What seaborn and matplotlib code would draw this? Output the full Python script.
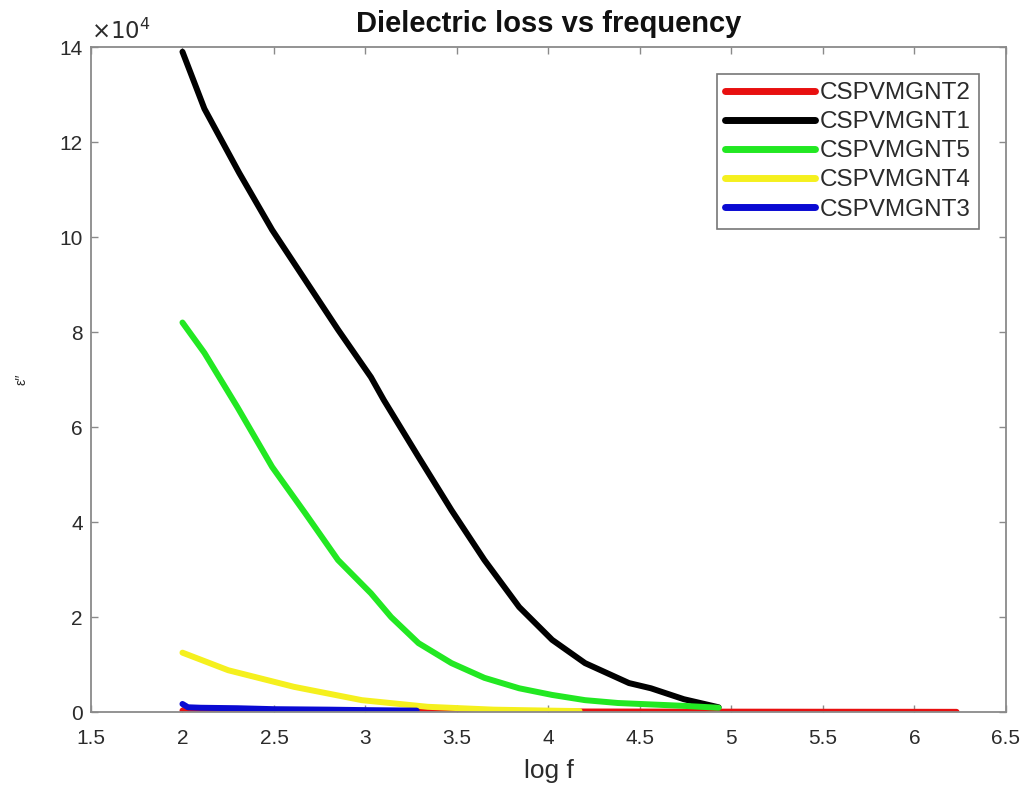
import numpy as np
import pandas as pd
import matplotlib
matplotlib.use("Agg")
import matplotlib.pyplot as plt
import seaborn as sns

# ---- data ----
series_names = ["CSPVMGNT2", "CSPVMGNT1", "CSPVMGNT5", "CSPVMGNT4", "CSPVMGNT3"]
series_colors = ["#e81010", "#000000", "#22e822", "#f5f01e", "#0a0ad2"]

t2_x = [2.0, 2.5, 3.0, 3.5, 4.0, 4.5, 5.0, 5.5, 6.0, 6.23]
t2_y = [300, 250, 200, 150, 120, 100, 80, 60, 50, 40]

t1_x = [2.0, 2.12, 2.31, 2.49, 2.67, 2.85, 3.03, 3.10, 3.29, 3.47, 3.65, 3.84,
        4.02, 4.20, 4.44, 4.56, 4.74, 4.93]
t1_y = [139000, 127000, 113500, 101500, 91000, 80500, 70500, 65700, 53700, 42500,
        32000, 22100, 15200, 10300, 6100, 5000, 2700, 1000]

t5_x = [2.0, 2.12, 2.30, 2.49, 2.67, 2.85, 3.03, 3.14, 3.29, 3.47, 3.65, 3.84,
        4.02, 4.20, 4.38, 4.56, 4.74, 4.93]
t5_y = [82000, 75600, 64200, 51600, 41900, 32000, 25000, 20000, 14500, 10300,
        7200, 5000, 3600, 2500, 1900, 1600, 1300, 900]

t4_x = [2.0, 2.25, 2.61, 2.98, 3.34, 3.7, 4.0, 4.17]
t4_y = [12500, 8800, 5300, 2500, 1100, 500, 300, 200]

t3_x = [2.0, 2.03, 2.1, 2.3, 2.5, 2.8, 3.0, 3.28]
t3_y = [1700, 1000, 900, 800, 600, 500, 400, 300]

xticks = [1.5, 2, 2.5, 3, 3.5, 4, 4.5, 5, 5.5, 6, 6.5]
xtick_labels = ["1.5", "2", "2.5", "3", "3.5", "4", "4.5", "5", "5.5", "6", "6.5"]
yticks = [0, 20000, 40000, 60000, 80000, 100000, 120000, 140000]
ytick_labels = ["0", "2", "4", "6", "8", "10", "12", "14"]

xs = [t2_x, t1_x, t5_x, t4_x, t3_x]
ys = [t2_y, t1_y, t5_y, t4_y, t3_y]
frames = []
for name, x, y in zip(series_names, xs, ys):
    frames.append(pd.DataFrame({"logf": x, "eps": y, "sample": name}))
df = pd.concat(frames, ignore_index=True)

# ---- plot ----
sns.set_style("white")
plt.rcParams["font.family"] = ["Liberation Sans", "DejaVu Sans"]

fig = plt.figure(figsize=(10.29, 7.93), dpi=100)
ax = fig.add_axes([0.0884, 0.1021, 0.8892, 0.8386])

sns.lineplot(data=df, x="logf", y="eps", hue="sample", hue_order=series_names,
             palette=dict(zip(series_names, series_colors)), sort=False,
             estimator=None, linewidth=4.3, ax=ax, legend=True)

ax.set_xlim(1.5, 6.5)
ax.set_ylim(0, 140000)
ax.set_xticks(xticks)
ax.set_xticklabels(xtick_labels)
ax.set_yticks(yticks)
ax.set_yticklabels(ytick_labels)

txt_color = "#2b2b2b"
spine_color = "#8a8a8a"
for s in ax.spines.values():
    s.set_color(spine_color)
    s.set_linewidth(1.3)
ax.tick_params(direction="in", length=5, width=1, color=spine_color,
               labelsize=15, labelcolor=txt_color,
               top=True, right=True, bottom=True, left=True)
ax.tick_params(axis="x", pad=12)
ax.tick_params(axis="y", pad=6)

ax.set_title("Dielectric loss vs frequency", fontsize=21, fontweight="bold",
             color="#111111", pad=11)
ax.set_xlabel("log f", fontsize=19, color=txt_color, labelpad=8)
ax.set_ylabel("ε′′", fontsize=10, color=txt_color, labelpad=22)

ax.text(0.0, 1.004, r"$\times10^{4}$", transform=ax.transAxes, fontsize=16.5,
        color=txt_color, ha="left", va="bottom")

leg = ax.legend(loc="upper right", fontsize=17.5, frameon=True, fancybox=False,
                edgecolor="#555555", handlelength=3.7, handletextpad=0.2,
                labelspacing=0.29, borderpad=0.35, borderaxespad=1.1)
leg.get_frame().set_linewidth(1.2)
for line in leg.get_lines():
    line.set_linewidth(5)
for t in leg.get_texts():
    t.set_color(txt_color)

fig.savefig("out.png", dpi=100)
